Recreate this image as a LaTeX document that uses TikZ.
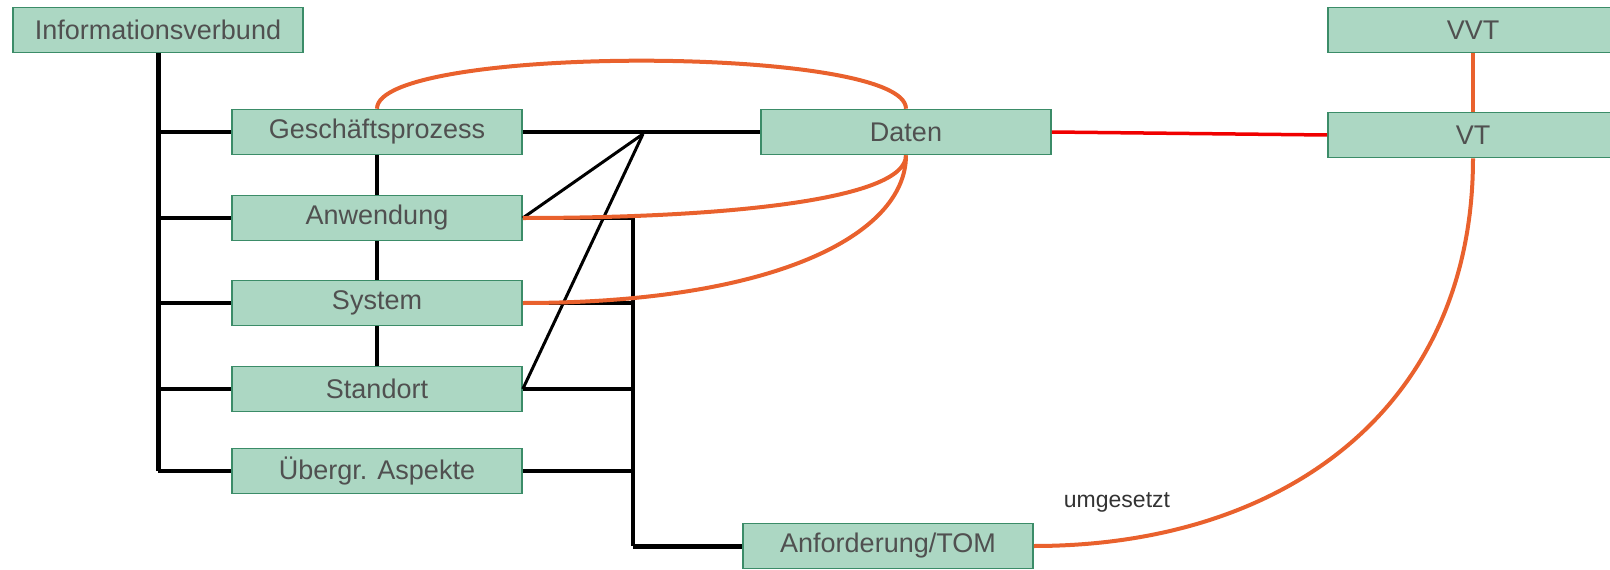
\documentclass[tikz,border=0pt]{standalone}
\usepackage{fontspec}
\setmainfont{Liberation Sans}
\usetikzlibrary{positioning}

\definecolor{boxfill}{HTML}{ACD7C3}
\definecolor{boxline}{HTML}{3B8C68}
\definecolor{boxtext}{HTML}{505050}
\definecolor{linkorange}{HTML}{E9612D}
\definecolor{linkred}{HTML}{F00000}

\tikzset{
  itbox/.style={draw=boxline, line width=1.6pt, fill=boxfill, text=boxtext,
    minimum width=290pt, minimum height=45pt, inner sep=0pt,
    font=\fontsize{27}{32}\selectfont},
  tree/.style={draw=black, line width=4pt},
  thin tree/.style={draw=black, line width=3pt},
  dsgvo/.style={draw=linkorange, line width=4pt},
  transfer/.style={draw=linkred, line width=3.5pt}
}

\begin{document}
\begin{tikzpicture}[x=1pt, y=-1pt]
\useasboundingbox (0,0) rectangle (1610,570);
\clip (0,0) rectangle (1610,570);

\node[itbox] (info) at (158,30) {Informationsverbund};
\node[itbox] (gp) at (377,132) {Geschäftsprozess};
\node[itbox] (anw) at (377,218) {Anwendung};
\node[itbox] (sys) at (377,303) {System};
\node[itbox] (std) at (377,389) {Standort};
\node[itbox] (ueb) at (377,471) {Übergr. Aspekte};
\node[itbox] (daten) at (906,132) {Daten};
\node[itbox] (tom) at (888,546) {Anforderung/TOM};
\node[itbox] (vvt) at (1473,30) {VVT};
\node[itbox] (vt) at (1473,135) {VT};

\coordinate (trunk) at (158,471);
\coordinate (join) at (643,134);
\coordinate (bustop) at (633,218);
\coordinate (busend) at (633,546);

% Baum links
\draw[tree, line width=5pt] (info.south) -- (trunk);
\foreach \n in {gp,anw,sys,std,ueb}
  \draw[tree] (\n.west -| trunk) -- (\n.west);
\draw[tree] (gp.south) -- (anw.north);
\draw[tree] (anw.south) -- (sys.north);
\draw[tree] (sys.south) -- (std.north);

% Daten
\draw[tree] (gp.east) -- (daten.west);
\draw[thin tree] (anw.east) -- (join);
\draw[thin tree] (std.east) -- (join);

% Anforderungen
\draw[tree] (anw.east) -- (bustop);
\draw[tree] (bustop) -- (busend);
\draw[tree, line width=5pt] (busend) -- (tom.west);
\foreach \n in {sys,std,ueb}
  \draw[tree] (\n.east) -- (\n.east -| bustop);

% Datenschutz
\draw[dsgvo] (gp.north) .. controls +(0,-64) and +(0,-64) .. (daten.north);
\draw[dsgvo] (anw.east) .. controls +(200,0) and +(0,45) .. (daten.south);
\draw[dsgvo] (sys.east) .. controls +(250,0) and +(0,80) .. (daten.south);
\draw[transfer] (daten.east) -- (vt.west);
\draw[dsgvo] (vvt.south) -- (vt.north);
\draw[dsgvo] (tom.east) .. controls +(250,0) and +(0,250) .. (vt.south);

\node[text=black!80, font=\fontsize{23}{27}\selectfont] (lbl) at (1117,502) {umgesetzt};
\end{tikzpicture}
\end{document}
